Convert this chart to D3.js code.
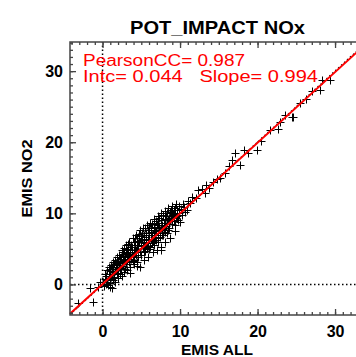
<!DOCTYPE html>
<html>
<head>
<meta charset="utf-8">
<script src="https://cdn.jsdelivr.net/npm/d3@7"></script>
<style>
  body { margin: 0; background: #fff; }
  svg { display: block; }
</style>
</head>
<body>
<div id="chart"></div>
<script>
const title = 'POT_IMPACT NOx'
const xLabel = 'EMIS ALL'
const yLabel = 'EMIS NO2'
const statsLine1 = 'PearsonCC= 0.987'
const statsLine2 = 'Intc= 0.044   Slope= 0.994'
const intercept = 0.044
const slope = 0.994
const majorTicks = [0, 10, 20, 30]

// [EMIS ALL, EMIS NO2]
const points = [
  [-3.2, -2.6], [-1.25, -2.5], [-1.6, -0.5], [0.9, -0.4], [1.2, -0.5], [-0.6, -0.3], [-0.3, 0.4],
  [0.1, 0.3], [0.2, -0.2], [0.3, 0.8], [0.4, 0.1], [0.5, 1.2], [0.6, 0.4], [0.7, -0.1], [0.8, 1.5],
  [0.9, 0.7], [1.0, 1.9], [1.0, 0.2], [1.1, 1.1], [1.2, 2.4], [1.3, 0.6], [1.4, 1.7], [1.5, 2.9],
  [1.5, 1.0], [1.6, 0.3], [1.7, 2.2], [1.8, 1.4], [1.9, 3.1], [2.0, 2.0], [2.0, 0.9], [2.1, 2.7],
  [2.2, 1.5], [2.3, 3.6], [2.4, 2.3], [2.5, 3.0], [2.5, 1.2], [2.6, 4.0], [2.7, 2.6], [2.8, 1.8],
  [2.9, 3.4], [3.0, 4.5], [3.0, 2.9], [3.1, 2.0], [3.2, 3.8], [3.3, 5.0], [3.4, 3.1], [3.5, 4.3],
  [3.5, 2.4], [3.6, 1.6], [3.7, 3.6], [3.8, 5.3], [3.9, 4.0], [4.0, 2.9], [4.0, 4.8],
  [4.1, 3.4], [4.2, 5.6], [4.3, 4.2], [4.4, 2.6], [4.5, 5.0], [4.6, 3.8], [4.7, 6.0], [4.8, 4.6],
  [4.8, 2.4], [4.9, 5.4], [5.0, 4.1], [5.1, 6.4], [5.2, 5.1], [5.3, 3.5], [5.4, 5.8], [5.5, 4.7],
  [5.6, 6.7], [5.7, 5.3], [5.8, 3.9], [5.9, 6.2], [6.0, 5.0], [6.0, 7.0],
  [6.1, 5.3], [6.2, 6.4], [6.3, 7.4], [6.4, 5.8], [6.5, 4.5], [6.6, 6.9], [6.7, 5.5], [6.8, 7.6],
  [6.9, 6.3], [7.0, 4.9], [7.1, 7.2], [7.2, 6.0], [7.3, 8.1], [7.4, 6.7], [7.5, 5.2], [7.6, 4.8],
  [7.7, 7.8], [7.8, 6.9], [7.9, 8.6], [8.0, 7.4], [8.1, 5.9],
  [8.2, 8.2], [8.3, 8.6], [8.4, 7.6], [8.5, 9.1], [8.6, 8.0], [8.7, 6.6], [8.8, 9.4], [8.9, 9.7],
  [9.0, 8.5], [9.1, 9.9], [9.2, 8.9], [9.3, 7.5], [9.4, 10.1], [9.5, 9.3], [9.6, 10.4], [9.7, 9.0],
  [9.8, 10.0], [10.0, 8.8], [10.1, 10.6], [10.3, 9.8], [10.5, 10.9], [10.7, 10.2],
  [0.5, 0.6], [1.2, 1.4], [1.8, 2.5], [2.2, 2.8], [2.6, 3.2], [2.9, 2.2], [3.3, 4.1], [3.6, 4.8],
  [3.9, 3.3], [4.2, 4.6], [4.5, 3.2], [4.6, 5.5], [5.0, 5.6], [5.3, 4.5], [5.6, 5.9], [5.9, 5.4],
  [6.2, 7.0], [6.5, 6.1], [6.8, 6.6], [7.1, 6.5], [7.4, 7.6], [7.7, 7.0], [8.0, 8.2], [8.3, 7.2],
  [8.6, 9.3], [9.0, 9.6], [9.3, 8.4], [9.6, 9.6], [1.4, 2.5], [2.0, 3.3], [2.7, 4.3], [3.1, 4.9],
  [3.7, 5.6], [4.4, 6.1], [5.0, 6.8], [5.6, 7.3], [6.3, 8.0], [7.0, 8.4], [7.6, 9.0], [8.2, 9.6],
  [8.8, 10.4], [9.3, 10.8],
  [0.6, 2.0], [1.1, 2.8], [1.6, 3.5], [2.1, 4.2], [2.5, 4.9], [3.0, 5.5], [3.4, 6.0], [3.9, 6.5],
  [4.3, 7.0], [4.8, 7.6], [5.2, 7.9], [5.7, 8.3], [6.1, 8.7], [6.6, 9.2], [7.1, 9.6], [7.5, 10.0],
  [8.0, 10.3], [8.5, 10.8], [9.0, 11.1], [9.5, 11.3],
  [0.8, 2.4], [1.3, 3.2], [1.9, 3.9], [2.4, 3.9], [2.8, 5.1], [3.3, 5.7], [3.8, 4.6], [4.2, 6.6],
  [4.7, 7.1], [5.1, 7.3], [5.5, 8.0], [6.0, 7.9], [6.4, 8.5], [6.9, 8.9], [7.3, 9.4], [7.8, 9.7],
  [8.3, 10.1], [8.7, 10.2], [9.2, 10.5], [9.9, 11.0],
  [1.0, 0.9], [1.6, 1.9], [2.3, 2.5], [2.8, 3.6], [3.4, 3.6], [4.0, 4.2], [4.6, 5.0], [5.2, 5.6],
  [5.8, 6.4], [6.4, 6.9], [6.9, 7.5], [7.5, 7.9], [8.1, 8.6], [8.7, 8.9], [9.2, 9.4], [9.8, 9.7],
  [0.3, 1.4], [0.9, 2.2], [1.7, 2.8], [2.2, 3.6], [2.6, 4.5], [3.2, 4.4], [3.6, 5.2], [4.1, 5.9],
  [4.5, 6.6], [4.9, 6.3], [5.4, 6.9], [5.9, 7.6], [6.3, 7.3], [6.7, 8.1], [7.2, 8.7], [7.7, 8.4],
  [8.1, 9.2], [8.9, 10.0], [3.1, 3.3], [4.3, 4.8], [5.5, 5.4], [6.6, 6.3], [7.9, 7.7], [2.0, 1.6],
  [10.9, 10.5], [11.3, 11.4], [11.5, 12.3], [12.3, 13.3], [13.2, 12.8], [13.4, 14.0], [14.3, 14.4],
  [15.2, 15.0], [15.8, 15.7], [16.7, 17.5], [17.7, 16.8], [17.1, 18.5], [18.8, 18.5], [19.9, 18.9],
  [21.6, 21.7], [22.6, 21.8], [22.9, 22.9], [24.4, 23.6], [24.6, 23.6], [25.5, 25.5], [28.0, 27.4],
  [28.3, 28.8], [29.3, 28.8], [10.4, 11.3], [11.0, 11.8], [12.0, 12.2], [12.8, 13.4], [13.7, 13.5],
  [14.8, 14.9], [16.3, 16.6], [18.3, 18.9], [20.5, 20.2], [23.5, 23.9], [26.3, 26.1], [27.0, 27.2]
]

const width = 356
const height = 357
const plot = { left: 70, top: 42, bottom: 315 }

const x = d3.scaleLinear([-4.2, 34.3], [plot.left, plot.left + 38.5 * 7.75])
const y = d3.scaleLinear([-4.3, 34.1], [plot.bottom, plot.top])
const [x0, x1] = x.domain()
const [y0, y1] = y.domain()

const svg = d3.select('#chart').append('svg')
  .attr('width', width)
  .attr('height', height)

const fontFamily = "'Liberation Sans', Arial, sans-serif"

// title
svg.append('text')
  .attr('x', 130).attr('y', 33.5)
  .attr('textLength', 175).attr('lengthAdjust', 'spacingAndGlyphs')
  .style('font-family', fontFamily).style('font-weight', 'bold').style('font-size', '17.5px')
  .text(title)

// zero reference lines and 1:1 line
const dotted = svg.append('g')
  .attr('stroke', '#000')
  .attr('stroke-width', 1.5)
  .attr('stroke-dasharray', '1.5 2.5')
  .attr('fill', 'none')

dotted.append('line')
  .attr('x1', x(0)).attr('x2', x(0))
  .attr('y1', y(y0)).attr('y2', y(y1))

dotted.append('line')
  .attr('x1', x(x0)).attr('x2', x(x1))
  .attr('y1', y(0)).attr('y2', y(0))

dotted.append('line')
  .attr('x1', x(Math.max(x0, y0))).attr('y1', y(Math.max(x0, y0)))
  .attr('x2', x(Math.min(x1, y1))).attr('y2', y(Math.min(x1, y1)))

// scatter '+'
const arm = 4
svg.append('g')
  .attr('stroke', '#000')
  .attr('stroke-width', 1)
  .selectAll('path')
  .data(points)
  .join('path')
  .attr('d', d => {
    const px = Math.round(x(d[0])) + 0.5
    const py = Math.round(y(d[1])) + 0.5
    return `M${px - arm},${py}H${px + arm}M${px},${py - arm}V${py + arm}`
  })

// regression line
svg.append('line')
  .attr('stroke', '#ff0000')
  .attr('stroke-width', 2)
  .attr('x1', x(x0)).attr('y1', y(intercept + slope * x0))
  .attr('x2', x(x1)).attr('y2', y(intercept + slope * x1))

// axes, ticks pointing inward
const axisColor = '#444'
function styleAxis (g) {
  g.select('.domain').remove()
  g.selectAll('line').attr('stroke', axisColor).attr('stroke-width', 1.3)
  g.selectAll('text')
    .attr('fill', '#000')
    .style('font-family', fontFamily).style('font-weight', 'bold').style('font-size', '16px')
}
const minorTicks = d3.range(-4, 35, 1)

const sides = [
  { make: d3.axisBottom, scale: x, at: `translate(0,${plot.bottom})`, label: true, pad: 11 },
  { make: d3.axisTop, scale: x, at: `translate(0,${plot.top})`, label: false, pad: 3 },
  { make: d3.axisLeft, scale: y, at: `translate(${plot.left},0)`, label: true, pad: 7 },
  { make: d3.axisRight, scale: y, at: `translate(${x(x1)},0)`, label: false, pad: 3 }
]

sides.forEach(s => {
  svg.append('g').attr('transform', s.at)
    .call(s.make(s.scale).tickValues(minorTicks).tickSize(-3).tickSizeOuter(0).tickFormat(''))
    .call(styleAxis)
  svg.append('g').attr('transform', s.at)
    .call(s.make(s.scale).tickValues(majorTicks).tickSize(-6).tickSizeOuter(0)
      .tickPadding(s.pad)
      .tickFormat(s.label ? d3.format('d') : ''))
    .call(styleAxis)
})

// frame
svg.append('rect')
  .attr('x', plot.left).attr('y', plot.top)
  .attr('width', x(x1) - plot.left).attr('height', plot.bottom - plot.top)
  .attr('fill', 'none').attr('stroke', axisColor).attr('stroke-width', 1.5)

// stats text
const stats = svg.append('g')
  .attr('fill', '#ff0000')
  .style('font-family', fontFamily).style('font-size', '16px')
stats.append('text').attr('x', 83).attr('y', 66)
  .attr('textLength', 162).attr('lengthAdjust', 'spacingAndGlyphs')
  .text(statsLine1)
stats.append('text').attr('x', 83).attr('y', 81.5)
  .attr('textLength', 235).attr('lengthAdjust', 'spacingAndGlyphs')
  .style('white-space', 'pre')
  .text(statsLine2)

// axis titles
svg.append('text')
  .attr('x', 181).attr('y', 355)
  .attr('textLength', 72).attr('lengthAdjust', 'spacingAndGlyphs')
  .style('font-family', fontFamily).style('font-weight', 'bold').style('font-size', '15px')
  .text(xLabel)

svg.append('text')
  .attr('transform', `translate(32,${(plot.top + plot.bottom) / 2}) rotate(-90)`)
  .attr('text-anchor', 'middle')
  .attr('textLength', 78).attr('lengthAdjust', 'spacingAndGlyphs')
  .style('font-family', fontFamily).style('font-weight', 'bold').style('font-size', '15.5px')
  .text(yLabel)
</script>
</body>
</html>
